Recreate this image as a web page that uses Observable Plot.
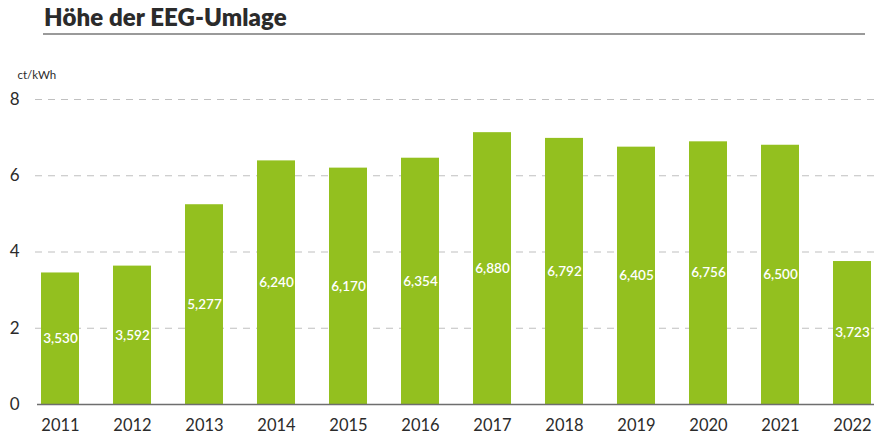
<!DOCTYPE html>
<html>
<head>
<meta charset="utf-8">
<script src="https://cdn.jsdelivr.net/npm/d3@7"></script>
<script src="https://cdn.jsdelivr.net/npm/@observablehq/plot@0.6"></script>
<style>
  html, body { margin: 0; padding: 0; background: #fff; }
  body { width: 885px; height: 442px; overflow: hidden; font-family: Lato, "Open Sans", sans-serif; }
  #title { position: relative; height: 40px; }
  #title h1 { position: absolute; left: 44px; top: 3px; margin: 0; font-size: 24px; font-weight: 800; color: #2b2b2b; letter-spacing: 0.1px; line-height: 28px; }
  #title .rule { position: absolute; left: 43px; width: 822px; top: 33px; height: 0; border-top: 2px solid #9a9a9a; }
</style>
</head>
<body>
<div id="title"><h1>Höhe der EEG-Umlage</h1><div class="rule"></div></div>
<div id="chart"></div>
<script>
const years = ["2011","2012","2013","2014","2015","2016","2017","2018","2019","2020","2021","2022"];
const barHeights = [3.45, 3.63, 5.24, 6.39, 6.20, 6.46, 7.13, 6.98, 6.75, 6.89, 6.80, 3.75];
const valueLabels = ["3,530","3,592","5,277","6,240","6,170","6,354","6,880","6,792","6,405","6,756","6,500","3,723"];
const yTicks = [0, 2, 4, 6, 8];
const unitLabel = "ct/kWh";

const data = years.map((y, i) => ({year: y, h: barHeights[i], label: valueLabels[i]}));

const chart = Plot.plot({
  width: 885,
  height: 402,
  marginLeft: 37,
  marginRight: 11,
  marginTop: 59,
  marginBottom: 38,
  style: {fontFamily: "Lato, 'Open Sans', sans-serif", color: "#2b2b2b", background: "#fff"},
  x: {domain: years, paddingInner: 0.473, paddingOuter: 0, label: null},
  y: {domain: [0, 8], label: null},
  marks: [
    Plot.gridY(yTicks.filter(d => d > 0), {stroke: "#c0c0c0", strokeOpacity: 1, strokeDasharray: "7,6", strokeWidth: 1.2, insetLeft: -2}),
    Plot.barY(data, {x: "year", y: "h", fill: "#93c01f"}),
    Plot.ruleY([0], {stroke: "#6e6e6e", strokeWidth: 1.5}),
    Plot.text(data, {x: "year", y: d => d.h / 2, text: "label", fill: "#fff", fontSize: 13.5, fontWeight: 600}),
    Plot.axisY({ticks: yTicks, tickSize: 0, tickPadding: 18, fontSize: 17, label: null, tickFormat: d => String(d)}),
    Plot.axisX({tickSize: 0, tickPadding: 15, fontSize: 16.5, label: null}),
    Plot.text([unitLabel], {frameAnchor: "top-left", textAnchor: "start", dx: -20, dy: -29, fontSize: 11.5, fill: "#2b2b2b"})
  ]
});
document.getElementById("chart").appendChild(chart);
</script>
</body>
</html>
